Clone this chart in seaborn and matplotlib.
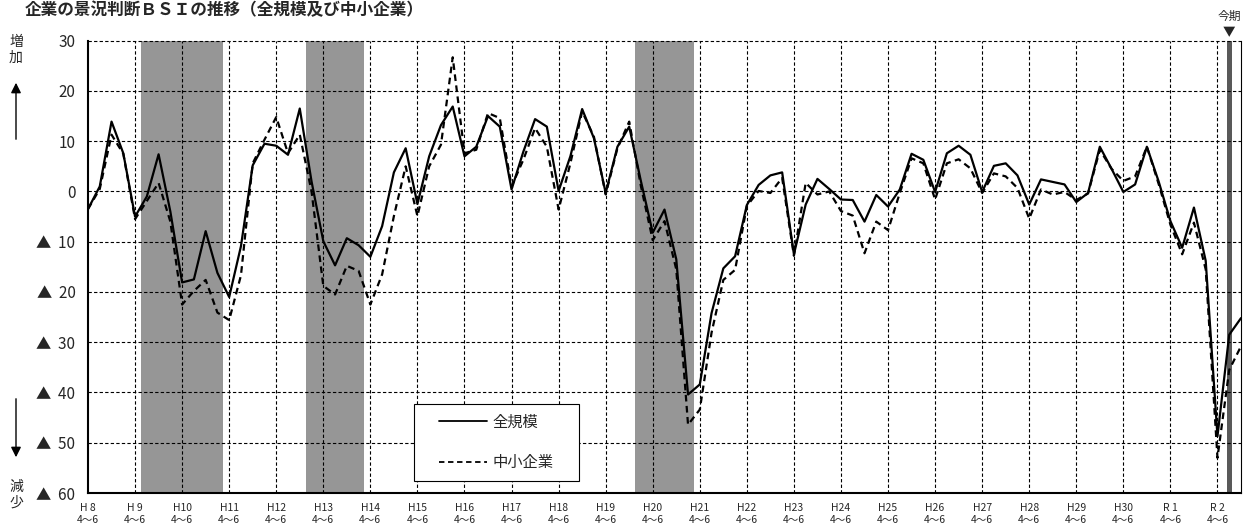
import matplotlib
matplotlib.use('Agg')
import matplotlib.pyplot as plt
from matplotlib.patches import FancyArrowPatch, Rectangle
import seaborn as sns
import pandas as pd

# 全規模 / 中小企業 BSI, quarterly from H8 4-6 to R2 10-12
all_sizes = [-3.5, 1.0, 13.9, 7.6, -5.0, -1.0, 7.4, -4.0, -18.1, -17.5,
             -7.9, -16.2, -21.0, -10.9, 5.2, 9.5, 9.1, 7.3, 16.5, 2.0,
             -9.9, -14.7, -9.3, -10.7, -13.0, -6.9, 3.8, 8.6, -2.5, 7.0,
             13.2, 16.9, 7.0, 8.9, 15.0, 12.9, 0.4, 7.9, 14.4, 12.9,
             0.1, 7.0, 16.4, 10.6, -0.3, 8.9, 12.9, 2.0, -8.2, -3.6,
             -13.5, -40.4, -38.4, -24.2, -15.3, -12.9, -2.7, 1.3, 3.2, 3.8,
             -12.5, -2.6, 2.5, 0.5, -1.6, -1.7, -6.0, -0.7, -3.0, 0.4,
             7.5, 6.3, -0.1, 7.6, 9.1, 7.3, -0.1, 5.1, 5.6, 3.2,
             -2.6, 2.4, 1.9, 1.4, -2.1, -0.3, 8.9, 4.5, -0.1, 1.4,
             8.9, 2.0, -5.9, -11.2, -3.2, -13.8, -48.7, -28.5, -25.2]
sme = [-3.5, 0.5, 11.3, 7.5, -5.5, -1.9, 1.7, -6.0, -22.5, -19.8,
       -17.6, -24.1, -25.6, -16.7, 5.6, 10.3, 14.8, 7.6, 11.3, 0.0,
       -18.8, -20.5, -14.8, -15.8, -22.5, -16.5, -4.9, 5.0, -4.9, 5.0,
       9.3, 26.7, 7.6, 8.3, 15.6, 14.6, 1.0, 6.3, 12.6, 8.9,
       -3.6, 5.6, 15.9, 10.9, -0.6, 8.6, 13.9, 1.0, -9.7, -5.9,
       -15.5, -46.4, -43.4, -28.1, -17.6, -15.6, -2.9, 0.1, -0.3, 2.7,
       -12.8, 1.7, -0.6, 0.0, -3.9, -4.8, -12.3, -6.0, -7.7, -0.3,
       6.6, 5.6, -1.6, 5.6, 6.4, 4.6, -0.3, 3.6, 3.0, 0.7,
       -5.4, 0.4, -0.6, -0.1, -1.7, -0.4, 8.3, 4.5, 2.1, 3.0,
       8.9, 1.5, -6.6, -12.5, -6.2, -15.5, -53.0, -35.5, -30.8]
years = ['H 8', 'H 9'] + ['H%d' % y for y in range(10, 31)] + ['R 1', 'R 2']
recessions = [(4.5, 11.5), (18.5, 23.5), (46.5, 51.5)]
current = 97
y_ticks = [30, 20, 10, 0, -10, -20, -30, -40, -50, -60]

df = pd.DataFrame({'q': list(range(len(all_sizes))) * 2,
                   'v': all_sizes + sme,
                   's': ['全規模'] * len(all_sizes) + ['中小企業'] * len(sme)})

sns.set_style('white')
plt.rcParams['font.family'] = ['Noto Sans CJK JP', 'DejaVu Sans']

W, H = 1255, 526
fig = plt.figure(figsize=(W / 100, H / 100), dpi=100)
ax = fig.add_axes([88 / W, 1 - 493 / H, 1153 / W, 452.3 / H])

for a, b in recessions:
    ax.axvspan(a, b, color='#969696', lw=0, zorder=0)
ax.axvspan(current - 0.22, current + 0.26, color='#595959', lw=0, zorder=1)

grid = dict(color='black', lw=0.8, ls=(0, (3, 2)), zorder=2)
for x in range(4, 97, 4):
    ax.axvline(x, **grid)
for y in range(-50, 31, 10):
    ax.axhline(y, clip_on=False, **grid)

sns.lineplot(data=df, x='q', y='v', style='s', style_order=['全規模', '中小企業'],
             dashes={'全規模': '', '中小企業': (3, 2)}, color='black',
             lw=1.6, ax=ax, zorder=3)

ax.set_xlim(0, 98)
ax.set_ylim(-60, 30)
ax.set_xlabel('')
ax.set_ylabel('')
ax.set_xticks(range(0, 97, 4))
ax.set_xticklabels([y + '\n4～6' for y in years], fontsize=7.5, linespacing=1.3)
ax.set_yticks(y_ticks)
ax.set_yticklabels([str(v) if v >= 0 else '▲  %d' % -v for v in y_ticks], fontsize=11)
ax.tick_params(axis='y', length=0, pad=9)
ax.tick_params(axis='x', length=0, pad=7)

for s in ['left', 'bottom']:
    ax.spines[s].set_linewidth(1.5)
    ax.spines[s].set_color('black')
ax.spines['top'].set_visible(False)
ax.spines['right'].set_linewidth(0.8)
ax.spines['right'].set_color('black')

# legend box drawn by hand so the padding matches
ax.add_patch(Rectangle((414 / W, 1 - 481 / H), 165 / W, 77 / H, transform=fig.transFigure,
                       facecolor='white', edgecolor='black', lw=0.8, zorder=4))
leg = ax.legend(loc='center', bbox_to_anchor=(496.5 / W, 1 - 442.5 / H),
                bbox_transform=fig.transFigure, borderaxespad=0, borderpad=0,
                fontsize=11, handlelength=3.1, labelspacing=1.55,
                handletextpad=0.4, frameon=False)
leg.set_zorder(5)
for h in leg.get_lines():
    h.set_color('black')
    h.set_linewidth(1.3)

# 今期 marker
ax.annotate('▼', xy=(current, 1.0), xycoords=('data', 'axes fraction'),
            xytext=(0, 1), textcoords='offset points', ha='center', va='bottom', fontsize=9)
ax.annotate('今期', xy=(current, 1.0), xycoords=('data', 'axes fraction'),
            xytext=(0, 13), textcoords='offset points', ha='center', va='bottom', fontsize=8.5)

# axis direction hints
fig.text(16 / W, 1 - 50 / H, '増\n加', ha='center', va='center', fontsize=10, linespacing=1.1)
fig.text(16 / W, 1 - 495 / H, '減\n少', ha='center', va='center', fontsize=10, linespacing=1.1)
fig.add_artist(FancyArrowPatch((16 / W, 1 - 142 / H), (16 / W, 1 - 80 / H),
                               transform=fig.transFigure,
                               arrowstyle='-|>,head_length=6,head_width=3', color='black', lw=1))
fig.add_artist(FancyArrowPatch((16 / W, 1 - 396 / H), (16 / W, 1 - 460 / H),
                               transform=fig.transFigure,
                               arrowstyle='-|>,head_length=6,head_width=3', color='black', lw=1))

fig.text(25 / W, 1 - 1 / H, '企業の景況判断ＢＳＩの推移（全規模及び中小企業）',
         ha='left', va='top', fontsize=12, fontweight='bold')

fig.savefig('out.png', dpi=100)
